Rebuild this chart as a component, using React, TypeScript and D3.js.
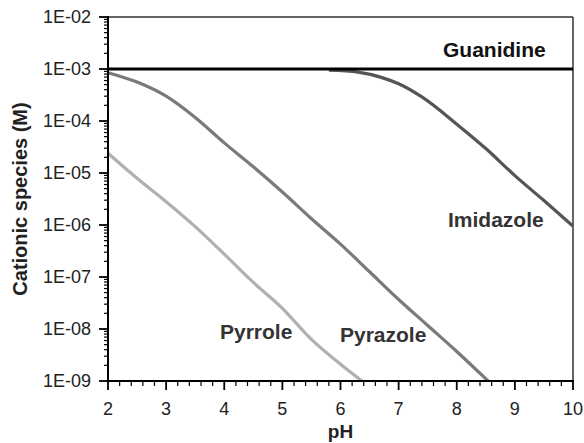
import React from "react";
import * as d3 from "d3";

const xTicks = [2, 3, 4, 5, 6, 7, 8, 9, 10];
const yTicks = [1e-2, 1e-3, 1e-4, 1e-5, 1e-6, 1e-7, 1e-8, 1e-9];
const yTickLabels = ["1E-02", "1E-03", "1E-04", "1E-05", "1E-06", "1E-07", "1E-08", "1E-09"];

const guanidinePH = [2, 10];
const guanidineC = [1e-3, 1e-3];

const imidazolePH = [5.8, 6.3, 6.7, 7.0, 7.4, 8.0, 8.5, 9.0, 9.5, 10.0];
const imidazoleC = [9.5e-4, 8.7e-4, 6.9e-4, 5.2e-4, 2.9e-4, 8.7e-5, 2.95e-5, 8.9e-6, 2.95e-6, 9.5e-7];

const pyrazolePH = [2.0, 2.5, 3.0, 3.5, 4.0, 4.5, 5.0, 5.5, 6.0, 6.5, 7.0, 7.5, 8.0, 8.54];
const pyrazoleC = [8.5e-4, 5.6e-4, 3.0e-4, 1.17e-4, 3.8e-5, 1.32e-5, 4.3e-6, 1.32e-6, 4.3e-7, 1.26e-7, 3.7e-8, 1.17e-8, 3.7e-9, 1.0e-9];

const pyrrolePH = [2.0, 2.5, 3.0, 3.5, 4.0, 4.5, 5.0, 5.5, 6.0, 6.37];
const pyrroleC = [2.4e-5, 7.9e-6, 2.8e-6, 9.3e-7, 2.75e-7, 7.9e-8, 2.5e-8, 6.3e-9, 2.1e-9, 1.0e-9];

const W = 584;
const H = 443;
const X0 = 108, X1 = 573, Y0 = 17, Y1 = 381;

export default function App() {
  const x = d3.scaleLinear().domain([2, 10]).range([X0, X1]);
  const y = d3.scaleLog().domain([1e-9, 1e-2]).range([Y1, Y0]);

  const line = d3
    .line<[number, number]>()
    .x((d) => x(d[0]))
    .y((d) => y(d[1]))
    .curve(d3.curveMonotoneX);

  const zip = (a: number[], b: number[]) => a.map((v, i) => [v, b[i]] as [number, number]);

  const xMinor = d3.range(2, 10.001, 0.2).filter((v) => Math.abs(v - Math.round(v)) > 0.01);
  const yMinor: number[] = [];
  for (let e = -9; e < -2; e++) {
    for (let m = 2; m <= 9; m++) yMinor.push(m * Math.pow(10, e));
  }

  const tickFont = "'Liberation Sans', Arial, sans-serif";
  const series = [
    { pts: zip(pyrrolePH, pyrroleC), color: "#b0b0b0" },
    { pts: zip(pyrazolePH, pyrazoleC), color: "#7a7a7a" },
    { pts: zip(imidazolePH, imidazoleC), color: "#555555" },
  ];

  return (
    <svg width={W} height={H} style={{ position: "absolute", left: 0, top: 0, background: "#fff" }}>
      <rect x={0} y={0} width={W} height={H} fill="#fff" />
      {/* frame top/right */}
      <line x1={X0} x2={X1} y1={Y0} y2={Y0} stroke="#333" strokeWidth={1.5} />
      <line x1={X1} x2={X1} y1={Y0} y2={Y1} stroke="#333" strokeWidth={1.5} />

      {/* curves */}
      {series.map((s, i) => (
        <path key={i} d={line(s.pts) || ""} fill="none" stroke={s.color} strokeWidth={3.2} strokeLinejoin="round" />
      ))}
      <path d={line(zip(guanidinePH, guanidineC)) || ""} fill="none" stroke="#000" strokeWidth={2.8} />

      {/* axes */}
      <line x1={X0} x2={X0} y1={Y0 - 1} y2={Y1} stroke="#000" strokeWidth={2} />
      <line x1={X0 - 1} x2={X1 + 1} y1={Y1} y2={Y1} stroke="#000" strokeWidth={2} />

      {yTicks.map((t, i) => (
        <g key={"yt" + i}>
          <line x1={X0 - 9} x2={X0} y1={y(t)} y2={y(t)} stroke="#000" strokeWidth={1.8} />
          <text
            x={X0 - 17}
            y={y(t)}
            dy="0.35em"
            textAnchor="end"
            fontFamily={tickFont}
            fontSize={18}
            fill="#222"
          >
            {yTickLabels[i]}
          </text>
        </g>
      ))}
      {yMinor.map((t, i) => (
        <line key={"ym" + i} x1={X0 - 4} x2={X0} y1={y(t)} y2={y(t)} stroke="#000" strokeWidth={1.2} />
      ))}

      {xTicks.map((t, i) => (
        <g key={"xt" + i}>
          <line x1={x(t)} x2={x(t)} y1={Y1} y2={Y1 + 9} stroke="#000" strokeWidth={1.8} />
          <text x={x(t)} y={415} textAnchor="middle" fontFamily={tickFont} fontSize={18} fill="#222">
            {t}
          </text>
        </g>
      ))}
      {xMinor.map((t, i) => (
        <line key={"xm" + i} x1={x(t)} x2={x(t)} y1={Y1} y2={Y1 + 5} stroke="#000" strokeWidth={1.2} />
      ))}

      {/* axis titles */}
      <text
        x={(X0 + X1) / 2}
        y={438}
        textAnchor="middle"
        fontFamily={tickFont}
        fontWeight="bold"
        fontSize={19}
        fill="#222"
      >
        pH
      </text>
      <text
        transform={`translate(27,${(Y0 + Y1) / 2}) rotate(-90)`}
        textAnchor="middle"
        fontFamily={tickFont}
        fontWeight="bold"
        fontSize={20}
        fill="#222"
      >
        Cationic species (M)
      </text>

      {/* series labels */}
      <text x={443} y={57} fontFamily={tickFont} fontWeight="bold" fontSize={21} fill="#111">
        Guanidine
      </text>
      <text x={448} y={227} fontFamily={tickFont} fontWeight="bold" fontSize={21} fill="#333">
        Imidazole
      </text>
      <text x={220} y={339} fontFamily={tickFont} fontWeight="bold" fontSize={21} fill="#333">
        Pyrrole
      </text>
      <text x={340} y={342} fontFamily={tickFont} fontWeight="bold" fontSize={21} fill="#333">
        Pyrazole
      </text>
    </svg>
  );
}
